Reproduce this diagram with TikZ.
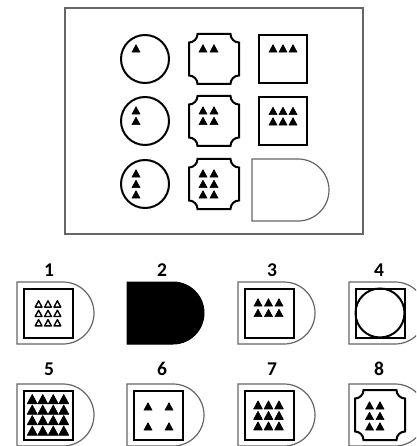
\documentclass[tikz,border=0pt]{standalone}
\usepackage{fontspec}
\setmainfont{Carlito}
\newcommand\Dshape[3]{\path[#3] (#1,#2) -- (#1+46,#2) .. controls (#1+63.12,#2) and (#1+77,#2+13.88) .. (#1+77,#2+31) .. controls (#1+77,#2+48.12) and (#1+63.12,#2+62) .. (#1+46,#2+62) -- (#1,#2+62) -- cycle;}
\newcommand\Octshape[2]{\path[bold] (#1-16.5,#2-25) -- (#1+16.5,#2-25) .. controls (#1+16.5,#2-20.31) and (#1+20.31,#2-16.5) .. (#1+25,#2-16.5) -- (#1+25,#2+16.5) .. controls (#1+20.31,#2+16.5) and (#1+16.5,#2+20.31) .. (#1+16.5,#2+25) -- (#1-16.5,#2+25) .. controls (#1-16.5,#2+20.31) and (#1-20.31,#2+16.5) .. (#1-25,#2+16.5) -- (#1-25,#2-16.5) .. controls (#1-20.31,#2-16.5) and (#1-16.5,#2-20.31) .. (#1-16.5,#2-25) -- cycle;}
\begin{document}
\begin{tikzpicture}[x=1pt,y=-1pt]
\tikzset{
 frameline/.style={draw=black!60, line width=1.4pt},
 dline/.style={draw=black!60, line width=1.2pt},
 bold/.style={draw=black, line width=2pt},
 trifill/.style={fill=black, draw=black, line width=0.6pt, line join=round},
 trioutline/.style={fill=white, draw=black, line width=1.4pt, line join=round},
 tri/.pic={\path[trifill] (-4,3.6)--(4,3.6)--(0,-3.8)--cycle;},
 otri/.pic={\path[trioutline] (-3.4,3)--(3.4,3)--(0,-3.3)--cycle;},
 lab/.style={font=\fontsize{19.5}{19.5}\selectfont\bfseries, inner sep=0pt},
}
\useasboundingbox (0,0) rectangle (416,446);
\clip (0,0) rectangle (416,446);
% puzzle frame
\draw[frameline] (65,8) rectangle (363,234);
% column 1: circles
\foreach \cy/\n in {59/1,121/2,184/3}{
  \draw[bold] (145,\cy) circle[radius=24];
  \foreach \k in {1,...,\n} \pic at (136,\cy-21+10.5*\k) {tri};
}
% column 2: notched squares
\foreach \cy/\n in {59/1,121/2,184/3}{
  \Octshape{214}{\cy}
  \foreach \k in {1,...,\n} {
    \pic at (203,\cy-21+10.5*\k) {tri};
    \pic at (214,\cy-21+10.5*\k) {tri};
  }
}
% column 3: squares
\foreach \cy/\n in {59/1,121.5/2}{
  \draw[bold] (259,\cy-24) rectangle (307,\cy+24);
  \foreach \k in {1,...,\n} {
    \pic at (273,\cy-21+10.5*\k) {tri};
    \pic at (283,\cy-21+10.5*\k) {tri};
    \pic at (293,\cy-21+10.5*\k) {tri};
  }
}
% missing cell
\Dshape{252}{159}{dline}
% labels
\node[lab] (l1) at (49,270) {1};
\node[lab] (l2) at (162,270) {2};
\node[lab] (l3) at (272,270) {3};
\node[lab] (l4) at (379,270) {4};
\node[lab] (l5) at (49,369) {5};
\node[lab] (l6) at (162,369) {6};
\node[lab] (l7) at (272,369) {7};
\node[lab] (l8) at (379,369) {8};
% option 1
\Dshape{17}{282}{dline}
\draw[bold] (23.5,288.5) rectangle (72.5,337.5);
\foreach \i in {-1,0,1} \foreach \j in {-1,0,1} \pic at (48+9.4*\i,313.5+9.4*\j) {otri};
% option 2
\Dshape{127}{282}{fill=black,draw=black,line width=1pt}
% option 3
\Dshape{238}{282}{dline}
\draw[bold] (244.5,288.5) rectangle (293.5,337.5);
\foreach \i in {-1,0,1} \foreach \j in {0,1} \pic at (268.5+10.5*\i,302.5+10.5*\j) {tri};
% option 4
\Dshape{349}{282}{dline}
\draw[bold] (355.5,288.5) rectangle (404.5,337.5);
\draw[bold] (380,313) circle[radius=24.5];
% option 5
\Dshape{17}{384}{dline}
\draw[bold] (23.5,390.5) rectangle (72.5,439.5);
\foreach \i in {-1.5,-0.5,0.5,1.5} \foreach \j in {-1.5,-0.5,0.5,1.5} \pic[scale=1.25] at (48+10.5*\i,415+10.5*\j) {tri};
% option 6
\Dshape{127}{384}{dline}
\draw[bold] (133.5,390.5) rectangle (182.5,439.5);
\foreach \i in {148,169} \foreach \j in {406.5,426.5} \pic at (\i,\j) {tri};
% option 7
\Dshape{238}{384}{dline}
\draw[bold] (244.5,390.5) rectangle (293.5,439.5);
\foreach \i in {-1,0,1} \foreach \j in {-1,0,1} \pic[scale=1.1] at (268.5+10.5*\i,415.5+10.5*\j) {tri};
% option 8
\Dshape{349}{384}{dline}
\Octshape{380}{415}
\foreach \i in {369.5,380} \foreach \j in {405.5,416,426.5} \pic at (\i,\j) {tri};
\end{tikzpicture}
\end{document}
